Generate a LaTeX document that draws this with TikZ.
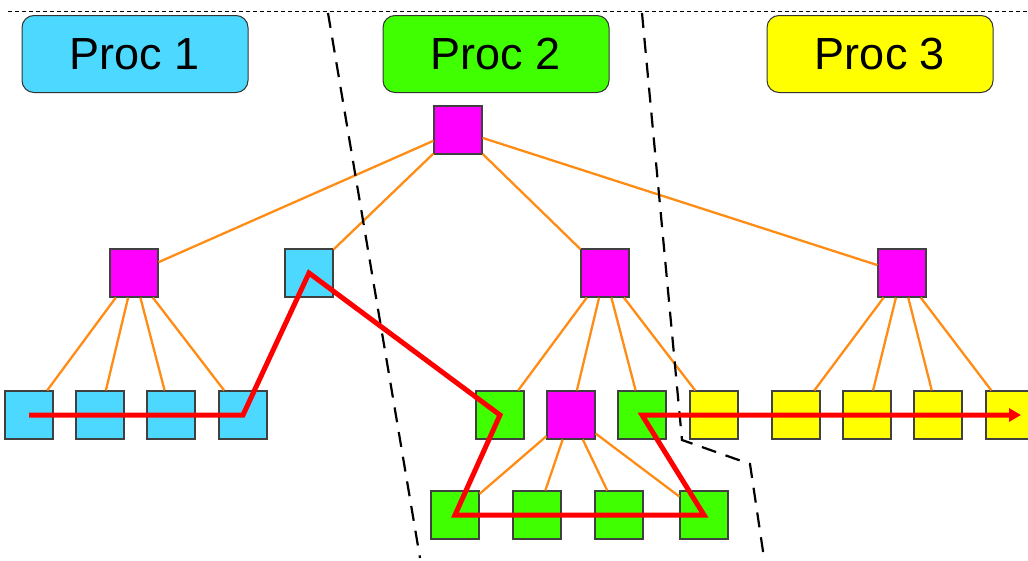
\documentclass[tikz,border=0pt]{standalone}
\usepackage{fontspec}
\setmainfont{Liberation Sans}
\usetikzlibrary{arrows.meta}
\definecolor{pcyan}{RGB}{77,217,255}
\definecolor{pgreen}{RGB}{64,255,0}
\definecolor{pyellow}{RGB}{255,255,0}
\definecolor{pmagenta}{RGB}{255,0,255}
\definecolor{porange}{RGB}{255,140,20}

\begin{document}
\begin{tikzpicture}[x=1pt, y=-1pt,
    proc/.style={draw=black!80, line width=1pt, rounded corners=12pt, minimum width=226pt, minimum height=77pt, font=\fontsize{45}{50}\selectfont},
    box/.style={draw=black!75, line width=1.2pt, minimum size=48pt, inner sep=0pt},
    edge/.style={draw=porange, line width=2.3pt},
    part/.style={line width=2.2pt, dash pattern=on 15pt off 10pt},
    walk/.style={draw=red, line width=5pt}]

    \useasboundingbox (0, 0) rectangle (1028, 560);

    \draw [line width=1pt, dash pattern=on 4pt off 3pt] (8, 11) -- (1028, 11);

    \node [proc, fill=pcyan] (p1) at (135, 54) {Proc 1};
    \node [proc, fill=pgreen] (p2) at (496, 54) {Proc 2};
    \node [proc, fill=pyellow] (p3) at (880, 54) {Proc 3};

    \node [box, fill=pmagenta] (r) at (458, 130) {};

    \node [box, fill=pmagenta] (a) at (134, 273) {};
    \node [box, fill=pcyan] (b) at (309, 273) {};
    \node [box, fill=pmagenta] (c) at (605, 273) {};
    \node [box, fill=pmagenta] (d) at (902, 273) {};

    \node [box, fill=pcyan] (a1) at (29, 415) {};
    \node [box, fill=pcyan] (a2) at (100, 415) {};
    \node [box, fill=pcyan] (a3) at (171, 415) {};
    \node [box, fill=pcyan] (a4) at (243, 415) {};

    \node [box, fill=pgreen] (c1) at (500, 415) {};
    \node [box, fill=pmagenta] (c2) at (571, 415) {};
    \node [box, fill=pgreen] (c3) at (642, 415) {};
    \node [box, fill=pyellow] (c4) at (714, 415) {};

    \node [box, fill=pyellow] (d1) at (796, 415) {};
    \node [box, fill=pyellow] (d2) at (867, 415) {};
    \node [box, fill=pyellow] (d3) at (938, 415) {};
    \node [box, fill=pyellow] (d4) at (1010, 415) {};

    \node [box, fill=pgreen] (g1) at (455, 515) {};
    \node [box, fill=pgreen] (g2) at (537, 515) {};
    \node [box, fill=pgreen] (g3) at (619, 515) {};
    \node [box, fill=pgreen] (g4) at (704, 515) {};

    \coordinate (e) at (1021, 415);

    \draw [edge] (r) -- (a);
    \draw [edge] (r) -- (b);
    \draw [edge] (r) -- (c);
    \draw [edge] (r) -- (d);
    \foreach \k in {1,...,4} {
      \draw [edge] (a) -- (a\k);
      \draw [edge] (c) -- (c\k);
      \draw [edge] (d) -- (d\k);
      \draw [edge] (c2) -- (g\k);
    }

    \draw [part] (328, 13) -- (420, 558);
    \draw [part] (642, 13) -- (682, 440) -- (750, 464) -- (764, 558);

    \draw [walk, -{Triangle[length=12pt, width=13pt]}] (a1.center) -- (a4.center) -- (b.center) -- (c1.center) -- (g1.center) -- (g4.center) -- (c3.center) -- (e);

\end{tikzpicture}
\end{document}
